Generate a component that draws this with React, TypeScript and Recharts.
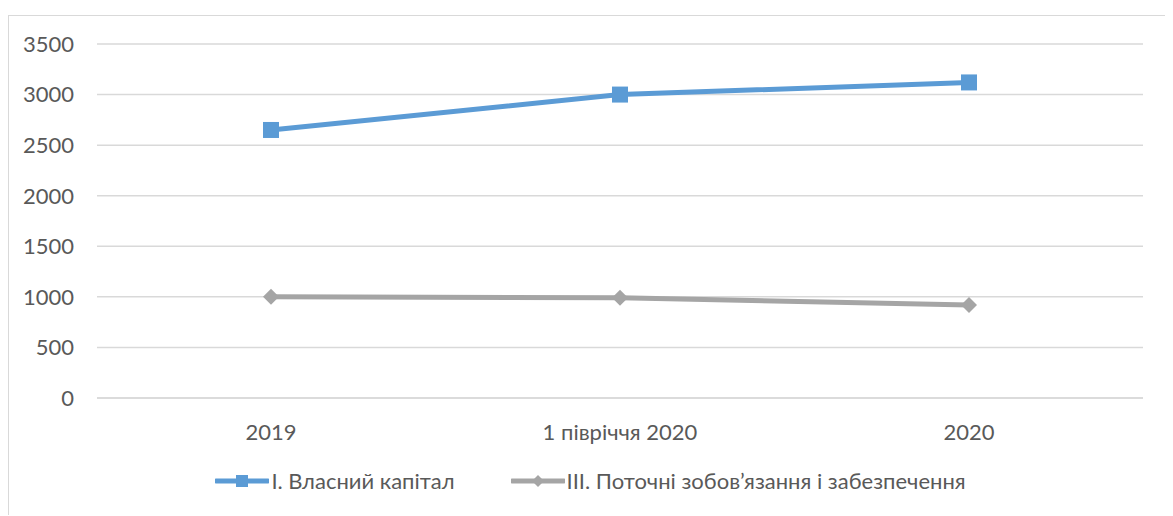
import React from "react";
import { LineChart, Line, XAxis, YAxis, CartesianGrid } from "recharts";

// Категорії (періоди) та значення рядів, тис. грн
const periods = ["2019", "1 півріччя 2020", "2020"];
const equity = [2650, 3000, 3120];
const liabilities = [1000, 990, 920];
const yTicks = [0, 500, 1000, 1500, 2000, 2500, 3000, 3500];

const SERIES = [
  { key: "equity", name: "І. Власний капітал", color: "#5b9bd5", marker: "square" },
  { key: "liabilities", name: "ІІІ. Поточні зобов’язання і забезпечення", color: "#a5a5a5", marker: "diamond" },
];

const data = periods.map((p, i) => ({ period: p, equity: equity[i], liabilities: liabilities[i] }));

const FONT = "Lato, 'Liberation Sans', sans-serif";
const TEXT = "#595959";
const GRID = "#d9d9d9";

const SquareDot = (props: any) => {
  const { cx, cy, fill } = props;
  if (cx == null || cy == null) return null;
  return <rect x={cx - 8} y={cy - 8} width={16} height={16} fill={fill} />;
};

const DiamondDot = (props: any) => {
  const { cx, cy, fill } = props;
  if (cx == null || cy == null) return null;
  return <path d={`M${cx},${cy - 8} L${cx + 8},${cy} L${cx},${cy + 8} L${cx - 8},${cy} Z`} fill={fill} />;
};

const LegendMarker = ({ color, marker }: { color: string; marker: string }) => (
  <svg width={54} height={16} style={{ display: "block" }}>
    <line x1={1} y1={8} x2={53} y2={8} stroke={color} strokeWidth={5} strokeLinecap="round" />
    {marker === "square" ? (
      <rect x={21} y={2} width={12} height={12} fill={color} />
    ) : (
      <path d="M27,2 L33,8 L27,14 L21,8 Z" fill={color} />
    )}
  </svg>
);

export default function App() {
  return (
    <div
      style={{
        position: "relative",
        marginTop: 7,
        width: 1163,
        height: 499,
        border: `1px solid ${GRID}`,
        borderBottom: "none",
        background: "#fff",
        fontFamily: FONT,
      }}
    >
      <LineChart width={1163} height={499} data={data} margin={{ top: 28, right: 29, left: 0, bottom: 0 }}>
        <CartesianGrid horizontal vertical={false} stroke={GRID} strokeWidth={1.5} />
        <XAxis
          dataKey="period"
          height={117}
          padding={{ left: 174, right: 174 }}
          tickLine={false}
          axisLine={{ stroke: GRID, strokeWidth: 1.5 }}
          tickSize={6}
          tickMargin={20}
          tick={{ fill: TEXT, fontSize: 22, fontFamily: FONT }}
        />
        <YAxis
          width={88}
          domain={[0, 3500]}
          ticks={yTicks}
          tickLine={false}
          axisLine={false}
          tickSize={6}
          tickMargin={17}
          tick={{ fill: TEXT, fontSize: 22, fontFamily: FONT }}
        />
        <Line
          dataKey="liabilities"
          name={SERIES[1].name}
          stroke={SERIES[1].color}
          strokeWidth={5}
          dot={<DiamondDot fill={SERIES[1].color} />}
          activeDot={false}
          isAnimationActive={false}
        />
        <Line
          dataKey="equity"
          name={SERIES[0].name}
          stroke={SERIES[0].color}
          strokeWidth={5}
          dot={<SquareDot fill={SERIES[0].color} />}
          activeDot={false}
          isAnimationActive={false}
        />
      </LineChart>
      <div
        style={{
          position: "absolute",
          top: 451,
          left: 0,
          width: 1163,
          display: "flex",
          justifyContent: "center",
          alignItems: "center",
          gap: 56,
          color: TEXT,
          fontSize: 22,
        }}
      >
        {SERIES.map((s) => (
          <div key={s.key} style={{ display: "flex", alignItems: "center", gap: 2 }}>
            <LegendMarker color={s.color} marker={s.marker} />
            <span>{s.name}</span>
          </div>
        ))}
      </div>
    </div>
  );
}
